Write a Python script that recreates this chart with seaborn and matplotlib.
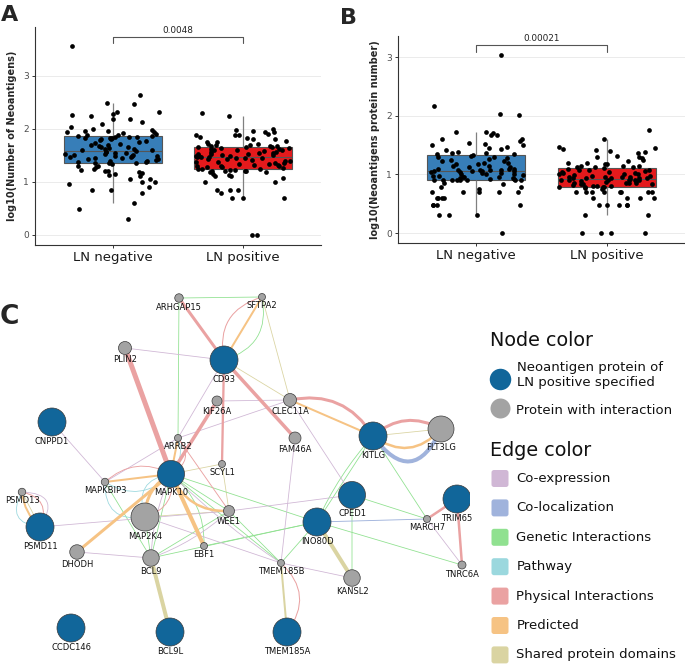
import numpy as np
import pandas as pd
import matplotlib
matplotlib.use("Agg")
import matplotlib.pyplot as plt
import seaborn as sns
from matplotlib.patches import FancyArrowPatch, FancyBboxPatch

sns.set_theme(style="white")
plt.rcParams["font.family"] = ["DejaVu Sans"]

# ---------------- data: panels A and B ----------------
groups = ["LN negative", "LN positive"]
box_colors = ["#377EB8", "#E41A1C"]

neo_neg = [3.55, 2.64, 2.49, 2.47, 2.32, 2.31, 2.27, 2.25, 2.24, 2.19, 2.18, 2.12, 2.08, 2.03, 2.0,
           1.98, 1.96, 1.95, 1.94, 1.93, 1.92, 1.9, 1.89, 1.88, 1.87,
           1.86, 1.85, 1.85, 1.84, 1.83, 1.82, 1.82, 1.81, 1.8, 1.78, 1.76, 1.75, 1.74, 1.72, 1.7,
           1.69, 1.67, 1.66, 1.65, 1.63, 1.62, 1.61, 1.6, 1.59, 1.58,
           1.57, 1.56, 1.55, 1.54, 1.53, 1.52, 1.51, 1.5, 1.49, 1.48, 1.48, 1.47, 1.46, 1.45, 1.44,
           1.43, 1.42, 1.41, 1.4, 1.39, 1.38, 1.37, 1.36, 1.35, 1.35,
           1.33, 1.3, 1.3, 1.27, 1.25, 1.22, 1.2, 1.2, 1.18, 1.17, 1.15, 1.13, 1.1, 1.05, 1.05,
           1.0, 1.0, 0.96, 0.9, 0.85, 0.85, 0.78, 0.6, 0.48, 0.3]
neo_pos = [2.29, 2.23, 2.0, 1.97, 1.95, 1.93, 1.93, 1.9, 1.89, 1.89, 1.88, 1.85, 1.83, 1.8, 1.8,
           1.77, 1.75, 1.75, 1.72, 1.72, 1.7, 1.69, 1.68, 1.67, 1.67,
           1.66, 1.65, 1.65, 1.64, 1.63, 1.62, 1.61, 1.6, 1.6, 1.59, 1.58, 1.57, 1.56, 1.55, 1.54,
           1.53, 1.52, 1.52, 1.51, 1.5, 1.49, 1.48, 1.48, 1.47, 1.46,
           1.46, 1.45, 1.45, 1.44, 1.43, 1.42, 1.41, 1.4, 1.39, 1.38, 1.37, 1.36, 1.35, 1.34, 1.33,
           1.32, 1.31, 1.3, 1.3, 1.29, 1.28, 1.27, 1.26, 1.25, 1.25,
           1.24, 1.23, 1.22, 1.21, 1.2, 1.2, 1.2, 1.19, 1.18, 1.15, 1.13, 1.1, 1.1, 1.08, 1.0,
           1.0, 0.85, 0.85, 0.85, 0.78, 0.7, 0.7, 0.7, 0.0, 0.0]
prot_neg = [3.04, 2.16, 2.03, 2.02, 1.73, 1.72, 1.7, 1.68, 1.67, 1.61, 1.6, 1.57, 1.53, 1.52, 1.5,
            1.5, 1.47, 1.45, 1.43, 1.42, 1.38, 1.37, 1.36, 1.35, 1.34,
            1.33, 1.32, 1.3, 1.3, 1.28, 1.26, 1.25, 1.23, 1.22, 1.2, 1.2, 1.18, 1.17, 1.15, 1.15,
            1.13, 1.12, 1.1, 1.1, 1.09, 1.08, 1.08, 1.07, 1.07, 1.06,
            1.06, 1.05, 1.05, 1.04, 1.04, 1.03, 1.02, 1.01, 1.0, 1.0, 0.99, 0.98, 0.97, 0.96, 0.95,
            0.95, 0.94, 0.93, 0.92, 0.92, 0.91, 0.9, 0.9, 0.9, 0.9,
            0.9, 0.9, 0.9, 0.85, 0.84, 0.78, 0.78, 0.75, 0.7, 0.7, 0.7, 0.7, 0.7, 0.6, 0.6,
            0.6, 0.6, 0.48, 0.48, 0.48, 0.48, 0.3, 0.3, 0.3, 0.0]
prot_pos = [1.76, 1.6, 1.46, 1.45, 1.43, 1.42, 1.4, 1.38, 1.36, 1.32, 1.3, 1.3, 1.28, 1.25, 1.23,
            1.2, 1.2, 1.18, 1.18, 1.15, 1.15, 1.14, 1.13, 1.12, 1.12,
            1.11, 1.1, 1.08, 1.08, 1.07, 1.05, 1.04, 1.04, 1.03, 1.02, 1.0, 1.0, 1.0, 0.99, 0.98,
            0.97, 0.96, 0.95, 0.95, 0.95, 0.94, 0.94, 0.93, 0.93, 0.93,
            0.92, 0.91, 0.9, 0.9, 0.9, 0.9, 0.9, 0.89, 0.88, 0.87, 0.86, 0.85, 0.85, 0.85, 0.84,
            0.84, 0.83, 0.82, 0.81, 0.8, 0.8, 0.79, 0.78, 0.78, 0.78,
            0.77, 0.75, 0.7, 0.7, 0.7, 0.7, 0.7, 0.7, 0.7, 0.7, 0.6, 0.6, 0.6, 0.6, 0.48,
            0.48, 0.48, 0.48, 0.48, 0.3, 0.3, 0.0, 0.0, 0.0, 0.0]
p_values = ["0.0048", "0.00021"]
y_labels = ["log10(Number of Neoantigens)", "log10(Neoantigens protein number)"]

# ---------------- data: panel C network ----------------
node_names = ["ARHGAP15", "SFTPA2", "PLIN2", "CD93", "KIF26A", "CLEC11A", "CNPPD1", "FAM46A",
              "KITLG", "FLT3LG", "ARRB2", "SCYL1", "MAPK10", "MAPKBIP3", "PSMD13", "CPED1",
              "TRIM65", "MAP2K4", "WEE1", "INO80D", "MARCH7", "PSMD11", "DHODH", "BCL9", "EBF1",
              "TMEM185B", "TNRC6A", "KANSL2", "CCDC146", "BCL9L", "TMEM185A"]
node_query = [0, 0, 0, 1, 0, 0, 1, 0, 1, 0, 0, 0, 1, 0, 0, 1, 1, 0, 0, 1, 0, 1, 0, 0, 0, 0, 0, 0, 1, 1, 1]
node_score = [8.5, 7, 13, 28, 10, 13, 28, 12, 28, 26, 7, 7, 27, 7.5, 7.5, 27, 28, 28, 11, 28, 7,
              28, 14.5, 16.5, 7, 7, 8, 16.5, 28, 28, 28]
# layout (pixel coordinates of the network panel)
layout_x = [179, 262, 125, 224, 217, 290, 52, 295, 373, 441, 178, 222, 171, 105, 22, 352, 457, 145,
            229, 317, 427, 40, 77, 151, 204, 281, 462, 352, 71, 170, 287]
layout_y = [298, 297, 348, 360, 401, 400, 422, 438, 436, 429, 438, 464, 474, 482, 492, 495, 499, 517,
            511, 522, 519, 527, 552, 558, 546, 563, 565, 578, 628, 632, 632]

edge_types = ["Co-expression", "Co-localization", "Genetic Interactions", "Pathway",
              "Physical Interactions", "Predicted", "Shared protein domains"]
edge_colors = ["#d0b7d5", "#a0b3dc", "#90e190", "#9bd8de", "#eaa2a2", "#f6c384", "#dad4a2"]

edges = [
    ("ARHGAP15", "CD93", "Physical Interactions", 3.0),
    ("CD93", "FAM46A", "Physical Interactions", 3.5),
    ("CD93", "SCYL1", "Physical Interactions", 2.3),
    ("PLIN2", "MAPK10", "Physical Interactions", 5.0),
    ("KIF26A", "MAPK10", "Physical Interactions", 3.5),
    ("CLEC11A", "KITLG", "Physical Interactions", 3.0),
    ("KITLG", "FLT3LG", "Physical Interactions", 3.0),
    ("CD93", "SFTPA2", "Physical Interactions", 1.0),
    ("ARRB2", "WEE1", "Physical Interactions", 0.9),
    ("TRIM65", "MARCH7", "Physical Interactions", 2.5),
    ("TRIM65", "TNRC6A", "Physical Interactions", 2.5),
    ("TMEM185B", "TMEM185A", "Physical Interactions", 1.0),
    ("PSMD13", "PSMD11", "Physical Interactions", 1.0),
    ("MAPKBIP3", "MAPK10", "Physical Interactions", 0.9),
    ("MAP2K4", "MAPK10", "Physical Interactions", 0.9),
    ("ARRB2", "MAPK10", "Physical Interactions", 0.9),
    ("CD93", "SFTPA2", "Predicted", 2.0),
    ("CLEC11A", "KITLG", "Predicted", 2.0),
    ("KITLG", "FLT3LG", "Predicted", 2.5),
    ("MAPK10", "EBF1", "Predicted", 4.0),
    ("MAPK10", "DHODH", "Predicted", 3.0),
    ("MAPK10", "MAPKBIP3", "Predicted", 2.0),
    ("MAP2K4", "MAPK10", "Predicted", 3.0),
    ("MAPK10", "WEE1", "Predicted", 2.5),
    ("PSMD13", "PSMD11", "Predicted", 2.0),
    ("ARRB2", "MAPK10", "Predicted", 2.0),
    ("KITLG", "FLT3LG", "Co-localization", 4.0),
    ("INO80D", "MARCH7", "Co-localization", 0.9),
    ("BCL9", "BCL9L", "Shared protein domains", 4.0),
    ("INO80D", "KANSL2", "Shared protein domains", 4.0),
    ("TMEM185B", "TMEM185A", "Shared protein domains", 2.0),
    ("CD93", "CLEC11A", "Shared protein domains", 0.8),
    ("SFTPA2", "CLEC11A", "Shared protein domains", 0.8),
    ("KITLG", "FLT3LG", "Shared protein domains", 0.8),
    ("MAPK10", "SCYL1", "Shared protein domains", 0.8),
    ("SCYL1", "WEE1", "Shared protein domains", 0.8),
    ("MAP2K4", "WEE1", "Shared protein domains", 0.8),
    ("PSMD13", "PSMD11", "Shared protein domains", 0.8),
    ("ARHGAP15", "SFTPA2", "Genetic Interactions", 0.8),
    ("CD93", "SFTPA2", "Genetic Interactions", 0.8),
    ("ARHGAP15", "ARRB2", "Genetic Interactions", 0.8),
    ("KITLG", "INO80D", "Genetic Interactions", 0.8),
    ("KITLG", "INO80D", "Genetic Interactions", 0.8),
    ("KITLG", "MARCH7", "Genetic Interactions", 0.8),
    ("CPED1", "KANSL2", "Genetic Interactions", 0.8),
    ("CPED1", "MARCH7", "Genetic Interactions", 0.8),
    ("INO80D", "TNRC6A", "Genetic Interactions", 0.8),
    ("MAPK10", "INO80D", "Genetic Interactions", 0.8),
    ("MAPK10", "WEE1", "Genetic Interactions", 0.8),
    ("WEE1", "TMEM185B", "Genetic Interactions", 0.8),
    ("MAPK10", "TMEM185B", "Genetic Interactions", 0.8),
    ("MAP2K4", "BCL9", "Genetic Interactions", 0.8),
    ("MAPKBIP3", "BCL9", "Genetic Interactions", 0.8),
    ("MAPK10", "EBF1", "Genetic Interactions", 0.8),
    ("BCL9", "INO80D", "Genetic Interactions", 0.8),
    ("BCL9", "WEE1", "Genetic Interactions", 0.8),
    ("BCL9", "MAPK10", "Genetic Interactions", 0.8),
    ("TMEM185B", "INO80D", "Genetic Interactions", 0.8),
    ("EBF1", "INO80D", "Genetic Interactions", 0.8),
    ("PLIN2", "CD93", "Co-expression", 0.8),
    ("CNPPD1", "MAPKBIP3", "Co-expression", 0.8),
    ("KIF26A", "CLEC11A", "Co-expression", 0.8),
    ("ARRB2", "CLEC11A", "Co-expression", 0.8),
    ("ARRB2", "CD93", "Co-expression", 0.8),
    ("CLEC11A", "CPED1", "Co-expression", 0.8),
    ("FAM46A", "TMEM185B", "Co-expression", 0.8),
    ("PSMD11", "WEE1", "Co-expression", 0.8),
    ("WEE1", "CPED1", "Co-expression", 0.8),
    ("DHODH", "BCL9", "Co-expression", 0.8),
    ("BCL9", "WEE1", "Co-expression", 0.8),
    ("MAPK10", "TMEM185B", "Co-expression", 0.8),
    ("TMEM185B", "KANSL2", "Co-expression", 0.8),
    ("MARCH7", "TNRC6A", "Co-expression", 0.8),
    ("PSMD13", "PSMD11", "Co-expression", 0.8),
    ("MAP2K4", "TMEM185B", "Co-expression", 0.8),
    ("MAPKBIP3", "ARRB2", "Co-expression", 0.8),
    ("BCL9", "MAPK10", "Co-expression", 0.8),
    ("MAPKBIP3", "MAPK10", "Pathway", 0.8),
    ("MAP2K4", "MAPK10", "Pathway", 0.8),
    ("PSMD13", "PSMD11", "Pathway", 0.8),
    ("ARRB2", "MAPK10", "Pathway", 0.8),
    ("MAPKBIP3", "MAP2K4", "Pathway", 0.8),
]
# curvature of each drawn edge (style), aligned with `edges`
edge_curve = [0, 0, 0, 0, 0, -0.35, -0.35, -0.45, 0, 0, 0, -0.45, -0.6, -0.35, 0.45, -0.6,
              0, 0, 0.45, 0, 0, 0, -0.3, 0.35, 0.2, 0,
              0.85, 0,
              0, 0, 0, 0, 0, 0, 0, 0, 0, 0,
              0, 0.45, 0, 0, 0.08, 0, 0, 0, 0, 0, 0, 0, 0, 0, 0, -0.25, 0, 0, 0, 0, 0,
              0, 0, 0, 0, 0, 0, 0, 0, 0, 0, 0.1, 0.05, 0, 0, -0.9, 0, 0, -0.1,
              0.4, -0.6, 0.75, -0.3, 0.6]

query_color = "#11669a"
other_color = "#a3a3a3"
node_legend = ["Neoantigen protein of\nLN positive specified", "Protein with interaction"]

# ---------------- figure ----------------
W, H = 685, 664
fig = plt.figure(figsize=(W / 100, H / 100), dpi=100)


def px_axes(x0, y0, x1, y1):
    return fig.add_axes([x0 / W, 1 - y1 / H, (x1 - x0) / W, (y1 - y0) / H])


panels = [
    (px_axes(35, 27, 321, 245), neo_neg, neo_pos, (-0.19, 3.915)),
    (px_axes(398, 36, 685, 243), prot_neg, prot_pos, (-0.17, 3.36)),
]
np.random.seed(7)
for i, (ax, neg, pos, ylim) in enumerate(panels):
    df = pd.DataFrame({"group": [groups[0]] * len(neg) + [groups[1]] * len(pos),
                       "value": neg + pos})
    ax.grid(True, color="#ebebeb", lw=0.7)
    ax.set_axisbelow(True)
    sns.boxplot(data=df, x="group", y="value", hue="group", order=groups, hue_order=groups,
                palette=box_colors, saturation=1, width=0.75, showfliers=False, showcaps=False,
                linecolor="#555555", linewidth=0.8, legend=False, ax=ax,
                whiskerprops=dict(color="#808080", lw=0.9),
                boxprops=dict(zorder=2))
    sns.stripplot(data=df, x="group", y="value", order=groups, color="black", size=3.4,
                  jitter=0.37, linewidth=0, ax=ax, zorder=3)
    ax.set_xlim(-0.6, 1.6)
    ax.set_ylim(*ylim)
    ax.set_yticks([0, 1, 2, 3])
    ax.set_xlabel("")
    ax.set_ylabel(y_labels[i], fontsize=7, fontweight="bold", labelpad=4)
    for s in ["top", "right"]:
        ax.spines[s].set_visible(False)
    for s in ["left", "bottom"]:
        ax.spines[s].set_color("#333333")
        ax.spines[s].set_linewidth(0.8)
    ax.tick_params(axis="y", length=2.5, width=0.7, color="#333333", labelsize=6.5,
                   labelcolor="#4d4d4d", pad=2, left=True)
    ax.tick_params(axis="x", length=2.5, width=0.7, color="#333333", labelsize=9.5,
                   labelcolor="#1a1a1a", pad=2, bottom=True)
    top = max(neg + pos)
    yb = top + (0.18 if i == 0 else 0.16)
    ax.plot([0, 0, 1, 1], [yb - 0.11, yb, yb, yb - 0.11], color="#555555", lw=0.8)
    ax.text(0.5, yb + 0.04, p_values[i], ha="center", va="bottom", fontsize=6.4, color="#222222")

fig.text(1 / W, 1 - 5 / H, "A", fontsize=16, fontweight="bold", va="top", ha="left")
fig.text(340 / W, 1 - 8 / H, "B", fontsize=16, fontweight="bold", va="top", ha="left")
fig.text(0 / W, 1 - 304 / H, "C", fontsize=19, fontweight="bold", va="top", ha="left")

# ---------------- network ----------------
axc = px_axes(0, 285, 470, 664)
axc.set_xlim(0, 470)
axc.set_ylim(664, 285)
axc.axis("off")
pos = {n: (x, y) for n, x, y in zip(node_names, layout_x, layout_y)}
ecol = dict(zip(edge_types, edge_colors))
order = np.argsort([e[3] for e in edges], kind="stable")
for k in order:
    a, b, t, w = edges[k]
    rad = edge_curve[k]
    p = FancyArrowPatch(pos[a], pos[b], arrowstyle="-", connectionstyle=f"arc3,rad={rad}",
                        color=ecol[t], lw=w * 0.72, shrinkA=0, shrinkB=0, zorder=1 + w / 10,
                        capstyle="round")
    axc.add_patch(p)

ndf = pd.DataFrame({"name": node_names, "x": layout_x, "y": layout_y,
                    "kind": ["query" if q else "other" for q in node_query],
                    "d": node_score})
for kind, col in [("other", other_color), ("query", query_color)]:
    sub = ndf[ndf.kind == kind]
    axc.scatter(sub.x, sub.y, s=(sub.d * 0.72) ** 2, color=col, edgecolor="#3a3a3a",
                linewidth=0.5, zorder=5)
for _, r in ndf.iterrows():
    axc.text(r.x, r.y + r.d / 2 + 5.2, r["name"], ha="center", va="center", fontsize=6,
             color="#111111", zorder=6)

# ---------------- legend ----------------
axl = px_axes(470, 285, 685, 664)
axl.set_xlim(470, 685)
axl.set_ylim(664, 285)
axl.axis("off")
axl.text(490, 340, "Node color", fontsize=13.8, va="center", ha="left", color="#111111")
axl.scatter([500], [379], s=(21.5 * 0.72) ** 2, color=query_color, linewidth=0)
axl.text(517, 375, node_legend[0], fontsize=9.5, va="center", ha="left", color="#111111",
         linespacing=1.15)
axl.scatter([500], [408], s=(20 * 0.72) ** 2, color=other_color, linewidth=0)
axl.text(516.5, 410, node_legend[1], fontsize=9.5, va="center", ha="left", color="#111111")
axl.text(490, 450, "Edge color", fontsize=13.8, va="center", ha="left", color="#111111")
for j, (t, c) in enumerate(zip(edge_types, edge_colors)):
    yc = 478.5 + j * 29.4
    axl.add_patch(FancyBboxPatch((491.5, yc - 8.5), 17, 17, boxstyle="round,pad=0,rounding_size=2.5",
                                 facecolor=c, edgecolor="none"))
    axl.text(516.5, yc, t, fontsize=9.5, va="center", ha="left", color="#111111")

fig.savefig("out.png", dpi=100)
